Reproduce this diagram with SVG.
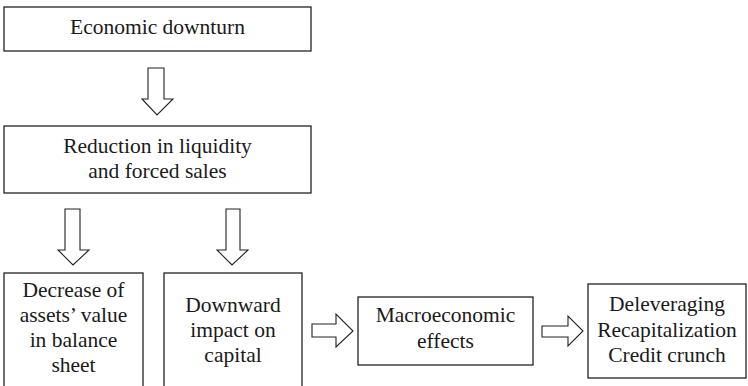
<svg xmlns="http://www.w3.org/2000/svg" width="748" height="386" viewBox="0 0 748 386">
<style>
.box{fill:#fff;stroke:#222;stroke-width:1.3}
.arr{fill:#fff;stroke:#222;stroke-width:1.1;stroke-linejoin:miter}
text{font-family:"Liberation Serif","Times New Roman",serif;font-size:21.5px;fill:#1a1a1a;text-anchor:middle}
</style>
<rect width="748" height="386" fill="#fff"/>
<g id="n1"><rect class="box" x="4" y="7" width="307" height="44"/><text x="157.5" y="34">Economic downturn</text></g>
<g id="n2"><rect class="box" x="4" y="126" width="307" height="67"/><text x="157.5" y="153">Reduction in liquidity</text><text x="157.5" y="178">and forced sales</text></g>
<g id="n3"><rect class="box" x="4" y="273" width="139" height="130"/><text x="73.5" y="297">Decrease of</text><text x="73.5" y="322">assets’ value</text><text x="73.5" y="347">in balance</text><text x="73.5" y="372">sheet</text></g>
<g id="n4"><rect class="box" x="164" y="273" width="138" height="130"/><text x="233" y="312">Downward</text><text x="233" y="337">impact on</text><text x="233" y="362">capital</text></g>
<g id="n5"><rect class="box" x="358" y="297" width="175" height="68"/><text x="445.5" y="322">Macroeconomic</text><text x="445.5" y="348">effects</text></g>
<g id="n6"><rect class="box" x="588" y="284" width="158" height="94"/><text x="667" y="311">Deleveraging</text><text x="667" y="337">Recapitalization</text><text x="667" y="362">Credit crunch</text></g>
<g id="connectors">
<path class="arr" d="M148,68 H164 V99 H173 L157,115 L142,99 H148 Z"/>
<path class="arr" d="M65,209 H80 V250 H89 L73,265 L58,250 H65 Z"/>
<path class="arr" d="M226,209 H240 V250 H248 L232,265 L217,250 H226 Z"/>
<path class="arr" d="M312,324 H336 V314 L353,331 L336,347 V337 H312 Z"/>
<path class="arr" d="M542,326 H568 V316 L583,331 L568,346 V337 H542 Z"/>
</g>
</svg>
